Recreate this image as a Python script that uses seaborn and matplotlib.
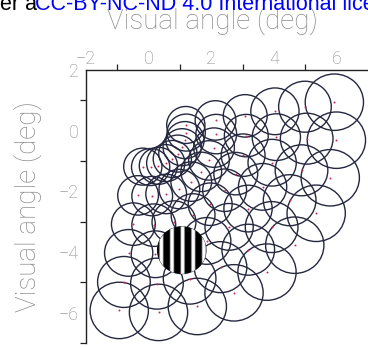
import numpy as np
import pandas as pd
import matplotlib
matplotlib.use("Agg")
import matplotlib.pyplot as plt
import seaborn as sns
from matplotlib.patches import Circle

# pRF grid: rings of eccentricity x rays of polar angle
ecc_deg = [1.2, 2.16, 3.12, 4.08, 5.05, 6.0]
prf_radius = [0.61, 0.65, 0.70, 0.77, 0.84, 0.93]
polar_deg = [9, -3, -15, -27, -39, -51, -63, -75, -87, -99]

# grating stimulus sitting on one of the pRFs
stim_ecc = 4.08
stim_polar = -75
stim_radius = 0.78
stim_period = 0.34

xticks_major = [-2, 0, 2, 4, 6]
xticks_minor = [-1, 1, 3, 5]
yticks_major = [2, 0, -2, -4, -6]
yticks_minor = [1, -1, -3, -5, -7]

rows = []
for e, r in zip(ecc_deg, prf_radius):
    for a in polar_deg:
        t = np.deg2rad(a)
        rows.append({'x': e * np.cos(t), 'y': e * np.sin(t), 'r': r})
df = pd.DataFrame(rows)

sns.set_style('white')
plt.rcParams['font.family'] = ['Roboto', 'DejaVu Sans']

fig = plt.figure(figsize=(3.68, 3.47), dpi=100)
ax = fig.add_axes([86 / 368, 4 / 347, 282 / 368, 273 / 347])

edge = '#262840'
for _, p in df.iterrows():
    ax.add_patch(Circle((p.x, p.y), p.r, fill=False, ec=edge, lw=1.0, zorder=2))

sns.scatterplot(data=df, x='x', y='y', s=2, color='#c8285a', linewidth=0,
                ax=ax, zorder=3, legend=False)

# grating: mostly black bars with soft grey edges
cx = stim_ecc * np.cos(np.deg2rad(stim_polar))
cy = stim_ecc * np.sin(np.deg2rad(stim_polar))
xs = np.linspace(cx - stim_radius, cx + stim_radius, 300)
wave = np.clip(0.5 + 1.4 * np.sin(2 * np.pi * (xs - cx) / stim_period + 0.9) - 0.6, 0, 1)
img = np.tile(wave, (50, 1))
im = ax.imshow(img, cmap='gray', vmin=0, vmax=1, aspect='auto', zorder=5,
               extent=[cx - stim_radius, cx + stim_radius, cy - stim_radius, cy + stim_radius])
im.set_clip_path(Circle((cx, cy), stim_radius, transform=ax.transData))

ax.set_xlim(-2, 7)
ax.set_ylim(-7, 2)

gray = '#8c8c8c'
ax.xaxis.tick_top()
ax.xaxis.set_label_position('top')
ax.set_xticks(xticks_major)
ax.set_xticks(xticks_minor, minor=True)
ax.set_yticks(yticks_major)
ax.set_yticks(yticks_minor, minor=True)
ax.set_xticklabels([f'\u2212{abs(v)}' if v < 0 else str(v) for v in xticks_major])
ax.set_yticklabels([f'\u2212{abs(v)}' if v < 0 else str(v) for v in yticks_major])
ax.tick_params(which='major', length=0, labelsize=13, labelcolor=gray)
ax.tick_params(axis='x', which='major', pad=1.5)
ax.tick_params(axis='y', which='major', pad=5.5)
ax.tick_params(which='minor', length=4, width=0.9, color='#222222',
               top=True, bottom=False, left=True)
for lab in ax.get_xticklabels() + ax.get_yticklabels():
    lab.set_fontweight('light')

for s in ['right', 'bottom']:
    ax.spines[s].set_visible(False)
for s in ['top', 'left']:
    ax.spines[s].set_color('#222222')
    ax.spines[s].set_linewidth(1.0)

ax.set_xlabel('Visual angle (deg)', fontsize=20, color=gray, fontweight='light')
ax.set_ylabel('Visual angle (deg)', fontsize=20, color=gray, fontweight='light')
ax.xaxis.set_label_coords(0.447, 1.180)
ax.xaxis.label.set_va('center')
ax.yaxis.set_label_coords(-0.206, 0.498)
ax.yaxis.label.set_va('center')

# clipped header line from the page
fig.text(0, 1 - 10 / 347, 'er a', fontsize=15.5, color='black',
         family='Liberation Sans', va='baseline', ha='left')
fig.text(35 / 368, 1 - 10 / 347, 'CC-BY-NC-ND 4.0 International license.',
         fontsize=15.5, color='#0000ff', family='Liberation Sans',
         va='baseline', ha='left')

fig.savefig('out.png', dpi=100)
